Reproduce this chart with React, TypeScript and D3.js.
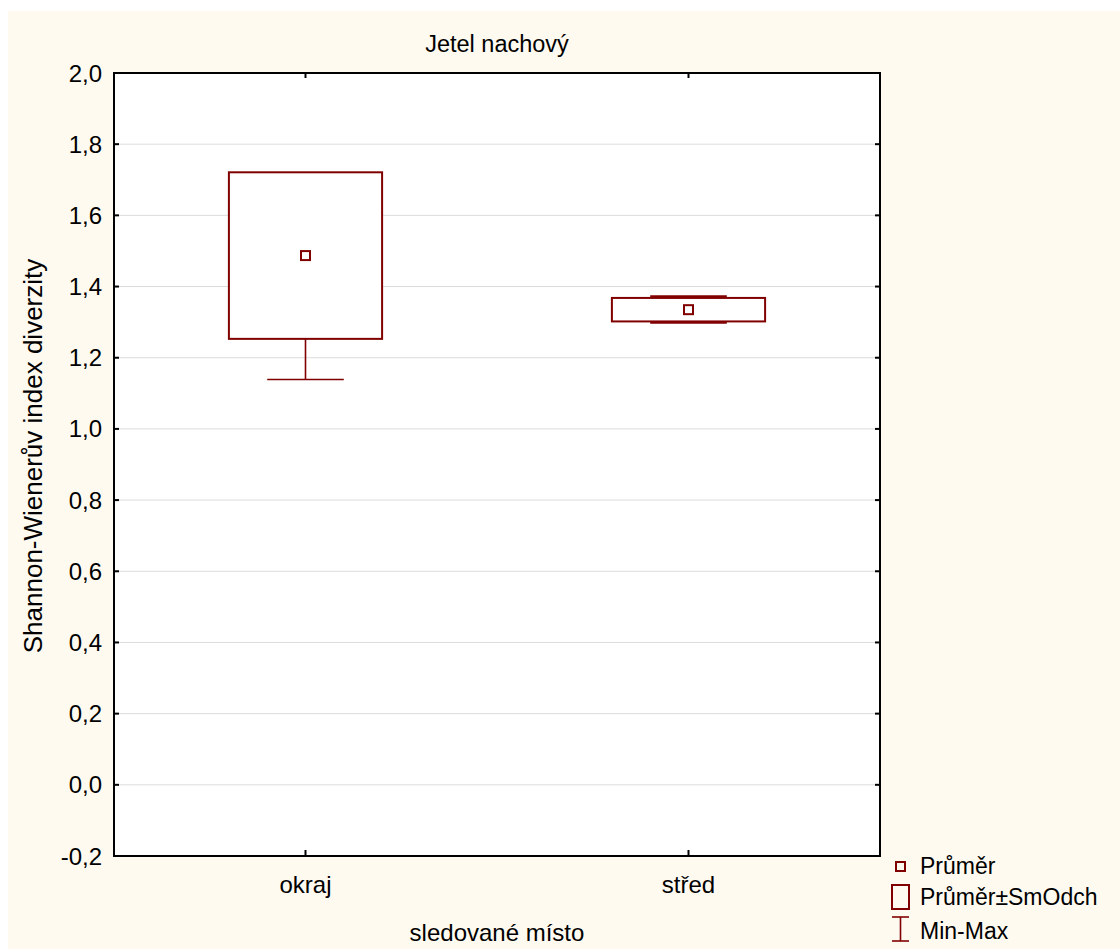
import React from "react";
import * as d3 from "d3";

const width = 1120;
const height = 949;
const margin = { left: 114, right: 240, top: 73, bottom: 93 };

const categories = ["okraj", "střed"];
const means = [1.487, 1.335];
const sds = [0.234, 0.033];
const mins = [1.139, 1.298];
const maxs = [1.7, 1.373];
const yTicks = [-0.2, 0, 0.2, 0.4, 0.6, 0.8, 1.0, 1.2, 1.4, 1.6, 1.8, 2.0];

const boxColor = "#800000";
const font = "'Liberation Sans', Arial, sans-serif";

// statistica style: comma decimal, plain hyphen minus
const fmt = (v: number) => d3.format(".1f")(v).replace(".", ",").replace("−", "-");

export default function App() {
  const x = d3
    .scaleBand()
    .domain(categories)
    .range([margin.left, width - margin.right]);
  const y = d3
    .scaleLinear()
    .domain([-0.2, 2.0])
    .range([height - margin.bottom, margin.top]);

  const bw = x.bandwidth();
  const boxW = bw * 0.4;
  const capW = bw * 0.2;
  const x0 = margin.left;
  const x1 = width - margin.right;
  const y0 = y(-0.2);
  const y1 = y(2.0);
  const midX = (x0 + x1) / 2;

  const rows = categories.map((c, i) => ({
    c,
    cx: (x(c) as number) + bw / 2,
    mean: means[i],
    lo: means[i] - sds[i],
    hi: means[i] + sds[i],
    min: mins[i],
    max: maxs[i],
  }));

  return (
    <svg
      width={width}
      height={height}
      style={{ position: "absolute", left: 0, top: 0 }}
      fontFamily={font}
    >
      <rect x={8} y={11} width={width - 8} height={height - 11} fill="#fefaf0" />
      <rect x={x0} y={y1} width={x1 - x0} height={y0 - y1} fill="#ffffff" />

      {/* grid */}
      {yTicks
        .filter((t) => t > -0.2 && t < 2.0)
        .map((t) => (
          <line key={t} x1={x0} x2={x1} y1={y(t)} y2={y(t)} stroke="#dcdcdc" strokeWidth={1} />
        ))}

      {/* boxes */}
      {rows.map((d) => (
        <g key={d.c}>
          {d.min < d.lo && (
            <g stroke={boxColor} strokeWidth={1.6}>
              <line x1={d.cx} x2={d.cx} y1={y(d.lo)} y2={y(d.min)} />
              <line x1={d.cx - capW / 2} x2={d.cx + capW / 2} y1={y(d.min)} y2={y(d.min)} />
            </g>
          )}
          {d.max > d.hi && (
            <g stroke={boxColor} strokeWidth={1.6}>
              <line x1={d.cx} x2={d.cx} y1={y(d.hi)} y2={y(d.max)} />
              <line x1={d.cx - capW / 2} x2={d.cx + capW / 2} y1={y(d.max)} y2={y(d.max)} />
            </g>
          )}
          <rect
            x={d.cx - boxW / 2}
            y={y(d.hi)}
            width={boxW}
            height={y(d.lo) - y(d.hi)}
            fill="#ffffff"
            stroke={boxColor}
            strokeWidth={2}
          />
          <rect
            x={d.cx - 4.5}
            y={y(d.mean) - 4.5}
            width={9}
            height={9}
            fill="#ffffff"
            stroke={boxColor}
            strokeWidth={2}
          />
        </g>
      ))}

      {/* frame */}
      <rect x={x0} y={y1} width={x1 - x0} height={y0 - y1} fill="none" stroke="#000" strokeWidth={2} />

      {/* y ticks */}
      {yTicks.map((t) => (
        <g key={t}>
          <line x1={x0} x2={x0 + 5} y1={y(t)} y2={y(t)} stroke="#000" strokeWidth={2} />
          <line x1={x1 - 5} x2={x1} y1={y(t)} y2={y(t)} stroke="#000" strokeWidth={2} />
          <text x={102} y={y(t) + 8.5} textAnchor="end" fontSize={24} fill="#000">
            {fmt(t)}
          </text>
        </g>
      ))}

      {/* x ticks */}
      {rows.map((d) => (
        <g key={d.c}>
          <line x1={d.cx} x2={d.cx} y1={y0} y2={y0 - 6} stroke="#000" strokeWidth={2} />
          <line x1={d.cx} x2={d.cx} y1={y1} y2={y1 + 5} stroke="#000" strokeWidth={2} />
          <text x={d.cx} y={893} textAnchor="middle" fontSize={24} fill="#000">
            {d.c}
          </text>
        </g>
      ))}

      <text x={midX} y={52} textAnchor="middle" fontSize={23.5} fill="#000">
        Jetel nachový
      </text>
      <text x={midX} y={941} textAnchor="middle" fontSize={24} fill="#000">
        sledované místo
      </text>
      <text
        transform={`translate(42,${456}) rotate(-90)`}
        textAnchor="middle"
        fontSize={26}
        fill="#000"
      >
        Shannon-Wienerův index diverzity
      </text>

      {/* legend */}
      <g fontSize={23} fill="#000">
        <rect x={896} y={862} width={9} height={9} fill="none" stroke={boxColor} strokeWidth={2} />
        <text x={920} y={874}>Průměr</text>
        <rect x={892} y={885} width={17} height={24} fill="none" stroke={boxColor} strokeWidth={2} />
        <text x={920} y={905}>Průměr±SmOdch</text>
        <g stroke={boxColor} strokeWidth={1.6}>
          <line x1={892} x2={909} y1={917} y2={917} />
          <line x1={892} x2={909} y1={941} y2={941} />
          <line x1={900.5} x2={900.5} y1={917} y2={941} />
        </g>
        <text x={920} y={939}>Min-Max</text>
      </g>
    </svg>
  );
}
